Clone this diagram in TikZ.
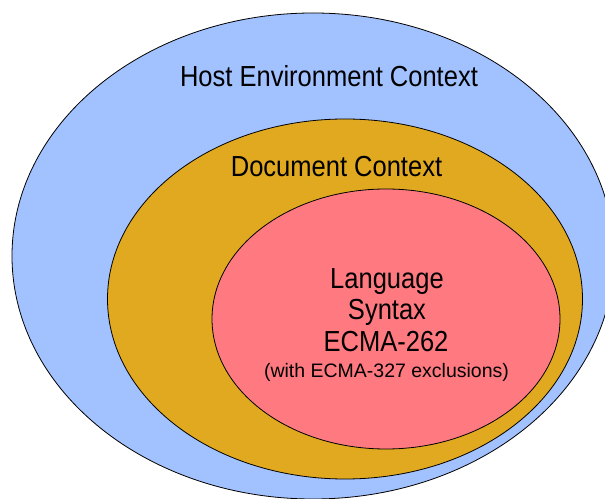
\documentclass[tikz,border=0pt]{standalone}
\usepackage{fontspec}
\setmainfont{Liberation Sans}[FakeStretch=0.88]
\newfontfamily\plainsans{Liberation Sans}
\definecolor{hostblue}{RGB}{162,193,255}
\definecolor{docgold}{RGB}{224,169,32}
\definecolor{langred}{RGB}{255,122,128}
\tikzset{
  ring/.style={draw=black, line width=0.8pt},
  biglabel/.style={anchor=base, inner sep=0pt, font=\fontsize{29}{29}\selectfont},
  smalllabel/.style={anchor=base, inner sep=0pt, font=\plainsans\fontsize{19.5}{19.5}\selectfont}
}
\begin{document}
\begin{tikzpicture}[x=1pt,y=1pt]
\useasboundingbox (0,0) rectangle (605,498);
\clip (0,0) rectangle (605,498);
% the three contexts
\draw[ring, fill=hostblue] (313,242) ellipse [x radius=301pt, y radius=243pt];
\fill[white] (494,442) rectangle (605,498);
\draw[ring, fill=docgold] (345,199) ellipse [x radius=237.5pt, y radius=180pt];
\draw[ring, fill=langred] (386,179) ellipse [x radius=174pt, y radius=130pt];
% labels
\node[biglabel] (host) at (329,411) {Host Environment Context};
\node[biglabel] (doc) at (336.5,321) {Document Context};
\node[biglabel] (lang) at (387,209) {Language};
\node[biglabel] (syntax) at (387,178) {Syntax};
\node[biglabel] (ecma) at (386,146) {ECMA-262};
\node[smalllabel] (excl) at (386.5,120) {(with ECMA-327 exclusions)};
\end{tikzpicture}
\end{document}
